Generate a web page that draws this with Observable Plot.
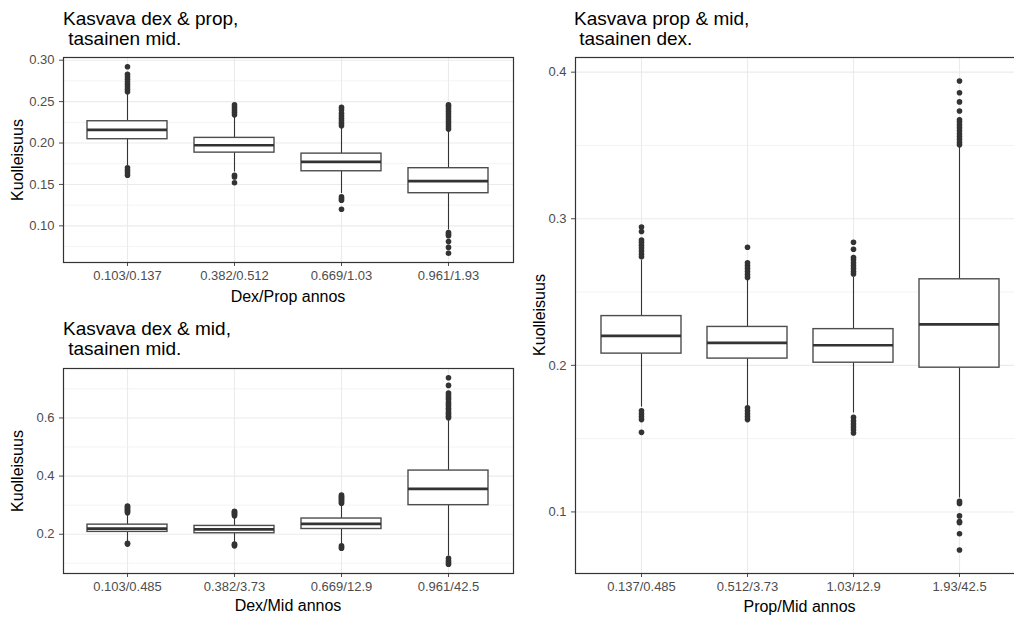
<!DOCTYPE html>
<html><head><meta charset="utf-8">
<script src="https://cdn.jsdelivr.net/npm/d3@7"></script>
<script src="https://cdn.jsdelivr.net/npm/@observablehq/plot@0.6"></script>
<style>
body{margin:0;background:#fff;overflow:hidden}
#wrap{position:relative;width:1014px;height:618px;overflow:hidden;font-family:"Liberation Sans",Arial,sans-serif;background:#fff}
.panel{position:absolute;width:520px}
.title{position:absolute;font-size:19px;line-height:20px;color:#000;white-space:pre}
.xlab{position:absolute;font-size:16px;line-height:16px;color:#000;white-space:nowrap;transform:translateX(-50%)}
.ylab{position:absolute;font-size:16px;line-height:16px;color:#000;white-space:nowrap;transform:translate(-50%,-50%) rotate(-90deg)}
</style></head><body><div id="wrap"></div><script>
// ---------- Panel 1: Kasvava dex & prop ----------
const catsDexProp = ["0.103/0.137", "0.382/0.512", "0.669/1.03", "0.961/1.93"];
const q1DexProp  = [0.2046, 0.1884, 0.1659, 0.1394];
const medDexProp = [0.2158, 0.1973, 0.1772, 0.1539];
const q3DexProp  = [0.2263, 0.2062, 0.1872, 0.1696];
const loDexProp  = [0.1725, 0.1650, 0.1390, 0.0950];
const hiDexProp  = [0.2585, 0.2330, 0.2190, 0.2150];
const outDexProp = [
  [0.262, 0.265, 0.268, 0.271, 0.274, 0.277, 0.280, 0.283, 0.292, 0.161, 0.164, 0.167, 0.170],
  [0.234, 0.237, 0.240, 0.243, 0.246, 0.159, 0.161, 0.152],
  [0.221, 0.224, 0.227, 0.230, 0.233, 0.236, 0.240, 0.243, 0.131, 0.133, 0.135, 0.120],
  [0.217, 0.220, 0.223, 0.226, 0.229, 0.232, 0.235, 0.238, 0.241, 0.244, 0.246, 0.088, 0.090, 0.092, 0.081, 0.074, 0.067]
];
const majorDexProp = [0.10, 0.15, 0.20, 0.25, 0.30];
const minorDexProp = [0.075, 0.125, 0.175, 0.225, 0.275];

// ---------- Panel 2: Kasvava dex & mid ----------
const catsDexMid = ["0.103/0.485", "0.382/3.73", "0.669/12.9", "0.961/42.5"];
const q1DexMid  = [0.208, 0.2034, 0.218, 0.300];
const medDexMid = [0.219, 0.217, 0.2355, 0.356];
const q3DexMid  = [0.233, 0.2286, 0.254, 0.419];
const loDexMid  = [0.172, 0.167, 0.165, 0.125];
const hiDexMid  = [0.270, 0.265, 0.305, 0.595];
const outDexMid = [
  [0.274, 0.278, 0.282, 0.286, 0.290, 0.294, 0.297, 0.166, 0.169],
  [0.264, 0.268, 0.272, 0.276, 0.279, 0.160, 0.163, 0.166],
  [0.307, 0.311, 0.315, 0.319, 0.323, 0.327, 0.331, 0.335, 0.152, 0.156, 0.160],
  [0.601, 0.606, 0.613, 0.619, 0.627, 0.633, 0.641, 0.648, 0.655, 0.664, 0.671, 0.679, 0.686, 0.712, 0.738, 0.097, 0.103, 0.109, 0.117]
];
const majorDexMid = [0.2, 0.4, 0.6];
const minorDexMid = [0.1, 0.3, 0.5, 0.7];

// ---------- Panel 3: Kasvava prop & mid ----------
const catsPropMid = ["0.137/0.485", "0.512/3.73", "1.03/12.9", "1.93/42.5"];
const q1PropMid  = [0.2080, 0.2046, 0.2018, 0.1984];
const medPropMid = [0.2201, 0.2153, 0.2137, 0.2279];
const q3PropMid  = [0.2336, 0.2262, 0.2247, 0.2587];
const loPropMid  = [0.1715, 0.1725, 0.1675, 0.1095];
const hiPropMid  = [0.2715, 0.2585, 0.2600, 0.3490];
const outPropMid = [
  [0.274, 0.276, 0.278, 0.280, 0.282, 0.284, 0.2855, 0.2913, 0.2943, 0.163, 0.165, 0.167, 0.169, 0.1543],
  [0.260, 0.262, 0.264, 0.266, 0.268, 0.270, 0.2806, 0.163, 0.165, 0.167, 0.169, 0.171],
  [0.2623, 0.264, 0.266, 0.268, 0.270, 0.272, 0.2735, 0.2792, 0.284, 0.1538, 0.156, 0.158, 0.160, 0.162, 0.1645],
  [0.3505, 0.352, 0.354, 0.356, 0.358, 0.360, 0.362, 0.364, 0.366, 0.3675, 0.3735, 0.3797, 0.386, 0.394,
   0.1058, 0.1072, 0.0973, 0.0927, 0.0935, 0.0851, 0.074]
];
const majorPropMid = [0.1, 0.2, 0.3, 0.4];
const minorPropMid = [0.15, 0.25, 0.35];

function boxPanel(o) {
  const rows = o.cats.map((c, i) => ({cat: c, q1: o.q1[i], med: o.med[i], q3: o.q3[i], lo: o.lo[i], hi: o.hi[i]}));
  const pts = o.cats.flatMap((c, i) => o.out[i].map(v => ({cat: c, v})));
  const all = [...pts.map(d => d.v), ...o.lo, ...o.hi];
  const [mn, mx] = d3.extent(all);
  const e = (mx - mn) * 0.05;
  return Plot.plot({
    width: o.width, height: o.height,
    marginTop: o.mt, marginRight: o.mr, marginBottom: o.mb, marginLeft: o.ml,
    style: {fontFamily: "'Liberation Sans', Arial, sans-serif", fontSize: "13px", color: "#4d4d4d", background: "transparent", maxWidth: "none"},
    x: {type: "band", domain: o.cats, paddingInner: 0.25, paddingOuter: 0.225, label: null, tickSize: 4, tickPadding: 4},
    y: {domain: [mn - e, mx + e], ticks: o.major, tickFormat: d3.format(o.fmt), label: null, tickSize: 4, tickPadding: 5},
    marks: [
      Plot.ruleY(o.minor, {stroke: "#ebebeb", strokeWidth: 0.6}),
      Plot.ruleY(o.major, {stroke: "#ebebeb", strokeWidth: 1.1}),
      Plot.ruleX(o.cats, {stroke: "#ebebeb", strokeWidth: 1.1}),
      Plot.ruleX(rows, {x: "cat", y1: "q3", y2: "hi", stroke: "#333", strokeWidth: 1.1}),
      Plot.ruleX(rows, {x: "cat", y1: "lo", y2: "q1", stroke: "#333", strokeWidth: 1.1}),
      Plot.barY(rows, {x: "cat", y1: "q1", y2: "q3", fill: "white", stroke: "#4d4d4d", strokeWidth: 1.4}),
      Plot.tickY(rows, {x: "cat", y: "med", stroke: "#333", strokeWidth: 2.7}),
      Plot.dot(pts, {x: "cat", y: "v", r: 2.8, fill: "#333", stroke: "none"}),
      Plot.frame({stroke: "#333", strokeWidth: 1.2})
    ]
  });
}

const wrap = document.getElementById("wrap");
function addPanel(left, top, chart) {
  const d = document.createElement("div");
  d.className = "panel";
  d.style.left = left + "px"; d.style.top = top + "px";
  d.appendChild(chart);
  wrap.appendChild(d);
}
function addText(cls, text, left, top) {
  const d = document.createElement("div");
  d.className = cls; d.textContent = text;
  d.style.left = left + "px"; d.style.top = top + "px";
  wrap.appendChild(d);
}

addPanel(0, 0, boxPanel({cats: catsDexProp, q1: q1DexProp, med: medDexProp, q3: q3DexProp, lo: loDexProp, hi: hiDexProp,
  out: outDexProp, major: majorDexProp, minor: minorDexProp, fmt: ".2f",
  width: 520, height: 320, mt: 57, mr: 7, mb: 58, ml: 63}));
addPanel(0, 311, boxPanel({cats: catsDexMid, q1: q1DexMid, med: medDexMid, q3: q3DexMid, lo: loDexMid, hi: hiDexMid,
  out: outDexMid, major: majorDexMid, minor: minorDexMid, fmt: ".1f",
  width: 520, height: 307, mt: 57, mr: 7, mb: 45, ml: 63}));
addPanel(520, 0, boxPanel({cats: catsPropMid, q1: q1PropMid, med: medPropMid, q3: q3PropMid, lo: loPropMid, hi: hiPropMid,
  out: outPropMid, major: majorPropMid, minor: minorPropMid, fmt: ".1f",
  width: 520, height: 618, mt: 57, mr: 16, mb: 45, ml: 55}));

addText("title", "Kasvava dex & prop,\n tasainen mid.", 63, 8.5);
addText("title", "Kasvava dex & mid,\n tasainen mid.", 63, 318.5);
addText("title", "Kasvava prop & mid,\n tasainen dex.", 574, 8.5);
addText("xlab", "Dex/Prop annos", 288, 288.5);
addText("xlab", "Dex/Mid annos", 288, 598);
addText("xlab", "Prop/Mid annos", 799.5, 599);
addText("ylab", "Kuolleisuus", 18, 159.5);
addText("ylab", "Kuolleisuus", 18, 470.5);
addText("ylab", "Kuolleisuus", 540, 315);
</script></body></html>
